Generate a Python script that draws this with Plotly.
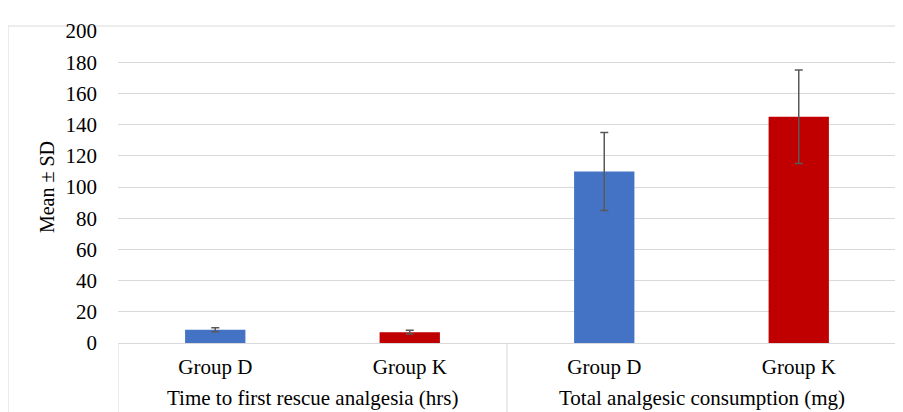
import plotly.graph_objects as go

outer_groups = ["Time to first rescue analgesia (hrs)", "Total analgesic consumption (mg)"]
outer = [outer_groups[0], outer_groups[0], outer_groups[1], outer_groups[1]]
inner = ["Group D", "Group K", "Group D", "Group K"]
means = [8.5, 6.9, 110, 145]
sds = [1.3, 1.2, 25, 30]
bar_colors = ["#4472C4", "#C00000", "#4472C4", "#C00000"]
y_ticks = [0, 20, 40, 60, 80, 100, 120, 140, 160, 180, 200]

FONT = "Liberation Serif"
GRID = "#d9d9d9"
FS = 21

xs = list(range(len(inner)))

fig = go.Figure()
fig.add_trace(go.Bar(
    x=xs, y=means,
    marker=dict(color=bar_colors, line=dict(width=0)),
    error_y=dict(type="data", array=sds, visible=True, color="#595959", thickness=1.5, width=4),
    showlegend=False,
))

# group centres and boundaries in category units
annotations = []
shapes = []
bounds = [-0.5]
for g in outer_groups:
    idx = [i for i, o in enumerate(outer) if o == g]
    centre = sum(idx) / len(idx)
    annotations.append(dict(x=centre, xref="x", y=-0.177, yref="paper", text=g,
                            showarrow=False, yanchor="middle",
                            font=dict(family=FONT, size=FS, color="#000000")))
    bounds.append(max(idx) + 0.5)
for b in bounds:
    shapes.append(dict(type="line", xref="x", yref="paper", x0=b, x1=b, y0=0, y1=-0.3,
                       line=dict(color=GRID, width=1)))

# page body has an 8px default margin; compensate
OFF = 8
W, H = 895, 404
L, R = 118 - OFF, 7
T = 31 - OFF
B = H - T - 312
pw, ph = W - L - R, H - T - B

shapes.append(dict(type="rect", xref="paper", yref="paper",
                   x0=(8 - OFF - L) / pw, x1=1.05, y0=-0.5, y1=(T - 18) / ph + 1,
                   line=dict(color=GRID, width=1), fillcolor="rgba(0,0,0,0)", layer="below"))

fig.update_layout(
    width=W, height=H,
    margin=dict(l=L, r=R, t=T, b=B),
    paper_bgcolor="white", plot_bgcolor="white",
    bargap=0.69,
    font=dict(family=FONT, size=FS, color="#000000"),
    xaxis=dict(
        range=[-0.5, len(inner) - 0.5],
        tickmode="array", tickvals=xs, ticktext=inner,
        showline=True, linecolor=GRID, linewidth=1,
        ticklabelstandoff=5,
        tickfont=dict(family=FONT, size=FS, color="#000000"),
        showgrid=False, zeroline=False,
    ),
    yaxis=dict(
        range=[0, 200], tickvals=y_ticks,
        showgrid=True, gridcolor=GRID, gridwidth=1,
        zeroline=False, showline=False,
        ticklabelstandoff=20,
        tickfont=dict(family=FONT, size=FS, color="#000000"),
        title=dict(text="Mean ± SD", font=dict(family=FONT, size=20), standoff=5),
    ),
    annotations=annotations,
    shapes=shapes,
)

fig.write_html("out.html")
